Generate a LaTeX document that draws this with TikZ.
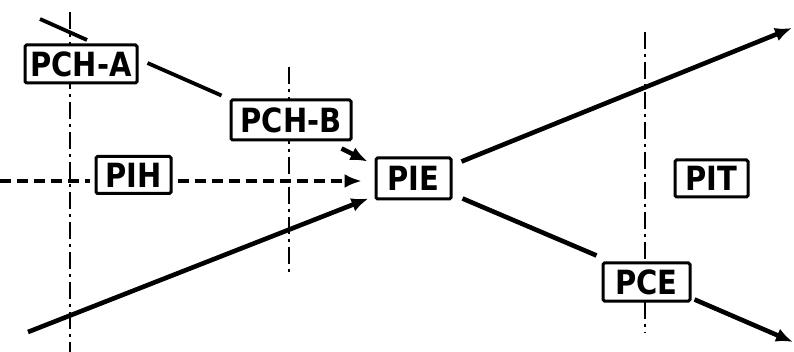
\documentclass[tikz,border=0pt]{standalone}
\usepackage{fontspec}
\setmainfont{DejaVu Sans}
\usepackage{graphicx}
\usetikzlibrary{arrows.meta,calc}
\newcommand{\lbl}[1]{\scalebox{1}[1.15]{#1}}
\begin{document}
\begin{tikzpicture}[x=1pt,y=-1pt,
  box/.style={draw, fill=white, line width=3pt, rounded corners=1.5pt, inner sep=0pt,
    font=\bfseries\fontsize{29}{29}\selectfont},
  axisline/.style={line width=2.8pt, dash pattern=on 17pt off 5pt on 3pt off 5pt},
  dashline/.style={line width=3.2pt, dash pattern=on 11pt off 6pt},
  flow/.style={line width=4.6pt},
  tip/.style={-{Latex[length=17pt,width=14pt]}},
]
\useasboundingbox (0,0) rectangle (794,352);
% vertical dash-dot axes
\coordinate (v1t) at (70,12);  \coordinate (v1b) at (70,352);
\coordinate (v2t) at (289,67); \coordinate (v2b) at (289,273);
\coordinate (v3t) at (645,32); \coordinate (v3b) at (645,333);
\draw[axisline] (v1t) -- (v1b);
\draw[axisline] (v2t) -- (v2b);
\draw[axisline] (v3t) -- (v3b);
% boxes
\node[box, minimum width=112pt, minimum height=38pt] (PCHA) at (81,64) {\lbl{PCH-A}};
\node[box, minimum width=120pt, minimum height=40pt] (PCHB) at (291,120) {\lbl{PCH-B}};
\node[box, minimum width=75pt, minimum height=37pt] (PIH) at (133.5,175) {\lbl{PIH}};
\node[box, minimum width=75pt, minimum height=41pt] (PIE) at (413.5,178.5) {\lbl{PIE}};
\node[box, minimum width=73pt, minimum height=37pt] (PIT) at (711.5,178.5) {\lbl{PIT}};
\node[box, minimum width=87pt, minimum height=38pt] (PCE) at (646.5,282) {\lbl{PCE}};
% free ends
\coordinate (a0) at (40,19); \coordinate (a1) at (87,40);
\coordinate (h0) at (0,181);
\coordinate (ll) at (28,332);
\coordinate (ur) at (792,28);
\coordinate (lr) at (793,342);
% connectors
\draw[flow, line width=3.8pt] (a0) -- (a1);
\draw[flow, line width=3.8pt] ($(PCHA.east)+(9,-1)$) -- ($(PCHB.north west)+(-8,-3)$);
\draw[flow, tip] ($(PCHB.south east)+(-11,7)$) -- ($(PIE.north west)+(-7,5)$);
\draw[dashline, shorten >=5pt] (h0) -- (PIH.west|-h0);
\draw[dashline, tip, shorten <=5pt] (PIH.east|-h0) -- ($(PIE.west|-h0)+(-13,0)$);
\draw[flow, tip] (ll) -- ($(PIE.south west)+(-6,-2)$);
\draw[flow, tip] ($(PIE.north east)+(9,5)$) -- (ur);
\draw[flow] ($(PIE.south east)+(10,-2)$) -- ($(PCE.north west)+(-5,-6)$);
\draw[flow, tip] ($(PCE.south east)+(3,-3)$) -- (lr);
\end{tikzpicture}
\end{document}
